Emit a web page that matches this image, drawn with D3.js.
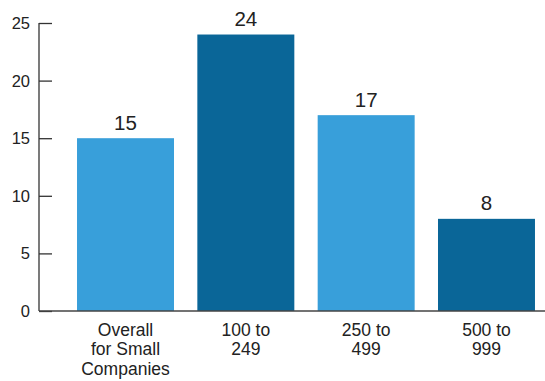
<!DOCTYPE html>
<html>
<head>
<meta charset="utf-8">
<script src="https://cdn.jsdelivr.net/npm/d3@7"></script>
<style>
  html, body { margin: 0; padding: 0; background: #fff; }
  svg { display: block; font-family: "Liberation Sans", Arial, Helvetica, sans-serif; }
</style>
</head>
<body>
<svg id="chart" width="545" height="381"></svg>
<script>
// Share by company size
const categories = [
  ["Overall", "for Small", "Companies"],
  ["100 to", "249"],
  ["250 to", "499"],
  ["500 to", "999"]
];
const values = [15, 24, 17, 8];
const barColors = ["#389fda", "#0a6698", "#389fda", "#0a6698"];
const yTicks = [0, 5, 10, 15, 20, 25];

const svg = d3.select("#chart");
const axisX = 39, baseY = 311, topY = 23;

const x = d3.scaleBand()
  .domain(d3.range(values.length))
  .range([axisX, 573])
  .paddingInner(0.194)
  .paddingOuter(0.316);

const y = d3.scaleLinear().domain([0, 25]).range([baseY, topY]);

// bars
svg.append("g").selectAll("rect")
  .data(values)
  .join("rect")
  .attr("x", (d, i) => x(i))
  .attr("width", x.bandwidth())
  .attr("y", d => y(d))
  .attr("height", d => y(0) - y(d))
  .attr("fill", (d, i) => barColors[i]);

// value labels
svg.append("g").selectAll("text")
  .data(values)
  .join("text")
  .attr("x", (d, i) => x(i) + x.bandwidth() / 2)
  .attr("y", d => y(d) - 8.5)
  .attr("text-anchor", "middle")
  .attr("font-size", 20.5)
  .attr("fill", "#222")
  .text(d => d);

// y axis with inward ticks
const yAxis = d3.axisRight(y).tickValues(yTicks).tickSize(13).tickFormat(() => "");
const gy = svg.append("g").attr("transform", `translate(${axisX},0)`).call(yAxis);
gy.select(".domain").remove();
gy.selectAll(".tick line").attr("stroke", "#333").attr("stroke-width", 1.3);
svg.append("line")
  .attr("x1", axisX).attr("x2", axisX)
  .attr("y1", y(25)).attr("y2", baseY)
  .attr("stroke", "#333").attr("stroke-width", 1.3);

svg.append("g").selectAll("text")
  .data(yTicks)
  .join("text")
  .attr("x", 30)
  .attr("y", d => y(d))
  .attr("dy", "0.36em")
  .attr("text-anchor", "end")
  .attr("font-size", 16.5)
  .attr("fill", "#222")
  .text(d => d);

// x baseline
svg.append("line")
  .attr("x1", axisX).attr("x2", 545)
  .attr("y1", baseY).attr("y2", baseY)
  .attr("stroke", "#444").attr("stroke-width", 1.3);

// category labels
const cat = svg.append("g").selectAll("text")
  .data(categories)
  .join("text")
  .attr("text-anchor", "middle")
  .attr("font-size", 17.5)
  .attr("fill", "#222");
cat.selectAll("tspan")
  .data((d, i) => d.map(line => ({ line, i })))
  .join("tspan")
  .attr("x", d => x(d.i) + x.bandwidth() / 2)
  .attr("y", (d, j) => 336 + j * 19.3)
  .text(d => d.line);
</script>
</body>
</html>
